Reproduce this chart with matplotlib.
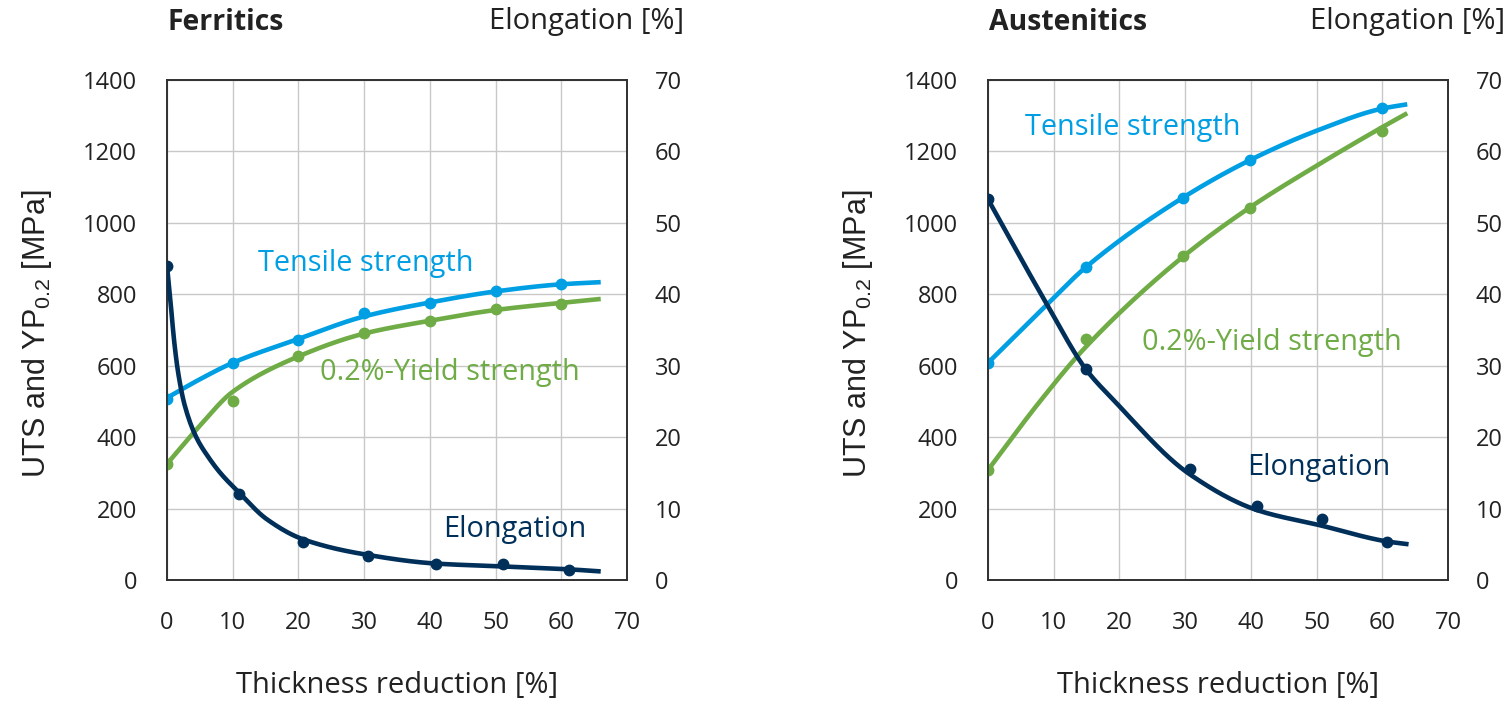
import numpy as np
import matplotlib
matplotlib.use("Agg")
from matplotlib import pyplot as plt

# measured points - Ferritics
fer_x = [0, 10, 20, 30, 40, 50, 60]
fer_uts = [507, 608, 672, 747, 775, 809, 828]
fer_yp = [325, 501, 626, 693, 725, 760, 773]
fer_el_x = [0, 10.9, 20.7, 30.6, 40.9, 51.1, 61.1]
fer_el = [43.9, 12.1, 5.3, 3.3, 2.2, 2.2, 1.4]

# trend lines - Ferritics
fer_fit_x = [0, 5, 10, 20, 30, 40, 50, 60, 66]
fer_uts_fit = [510, 562, 608, 675, 738, 777, 808, 828, 834]
fer_yp_fit = [325, 432, 527, 626, 690, 726, 756, 776, 787]
fer_el_fit_x = [0, 0.6, 1.07, 1.72, 2.74, 4.5, 6.3, 8.1, 10.9, 15.2, 20.7, 30, 40.9, 51, 61, 66]
fer_el_fit = [44, 38.3, 33.6, 28.9, 24.3, 19.9, 17.2, 15.0, 12.3, 8.5, 5.7, 3.6, 2.3, 1.9, 1.5, 1.2]

# measured points - Austenitics
aus_x = [0, 14.9, 29.7, 39.9, 60]
aus_uts = [608, 876, 1071, 1176, 1322]
aus_yp = [308, 675, 907, 1041, 1258]
aus_el_x = [0, 14.9, 30.7, 40.9, 50.8, 60.7]
aus_el = [53.3, 29.5, 15.5, 10.4, 8.6, 5.3]

# trend lines - Austenitics
aus_uts_fit_x = [0, 8.9, 14.9, 29.7, 39.9, 50, 60, 63.8]
aus_uts_fit = [608, 770, 876, 1071, 1176, 1258, 1320, 1332]
aus_yp_fit_x = [0, 7.9, 14.9, 29.8, 40, 50, 60, 63.8]
aus_yp_fit = [308, 500, 653, 907, 1045, 1160, 1268, 1307]
aus_el_fit_x = [0, 8.9, 14.9, 19.1, 30.7, 40.9, 50.8, 60.7, 64]
aus_el_fit = [53.3, 38.7, 29.5, 25.2, 14.8, 9.8, 7.6, 5.4, 5.0]

DARK = '#00305A'
BLUE = '#009FE3'
GREEN = '#6FAC46'
FONT = 'Open Sans'


def pchip(x, y, n=300):
    # monotone cubic for a smooth line through the trend points
    x = np.asarray(x, float)
    y = np.asarray(y, float)
    h = np.diff(x)
    d = np.diff(y) / h
    m = np.zeros_like(y)
    for k in range(1, len(x) - 1):
        if d[k - 1] * d[k] > 0:
            w1 = 2 * h[k] + h[k - 1]
            w2 = h[k] + 2 * h[k - 1]
            m[k] = (w1 + w2) / (w1 / d[k - 1] + w2 / d[k])
    m[0] = d[0]
    m[-1] = d[-1]
    xs = np.linspace(x[0], x[-1], n)
    idx = np.clip(np.searchsorted(x, xs) - 1, 0, len(h) - 1)
    t = (xs - x[idx]) / h[idx]
    h00 = 2 * t**3 - 3 * t**2 + 1
    h10 = t**3 - 2 * t**2 + t
    h01 = -2 * t**3 + 3 * t**2
    h11 = t**3 - t**2
    ys = h00 * y[idx] + h10 * h[idx] * m[idx] + h01 * y[idx + 1] + h11 * h[idx] * m[idx + 1]
    return xs, ys


plt.rcParams['mathtext.fontset'] = 'custom'
plt.rcParams['mathtext.rm'] = 'Liberation Sans'

fig = plt.figure(figsize=(15.1, 7.05), dpi=100)
W, H = 1510.0, 705.0


def panel(left_px, title, px_, uts, yp, uts_fit_x, uts_fit, yp_fit_x, yp_fit,
          elx, el, el_fit_x, el_fit, labels):
    ax = fig.add_axes([left_px / W, 125 / H, 460 / W, 500 / H])
    ax2 = ax.twinx()
    ax.set_xlim(0, 70)
    ax.set_ylim(0, 1400)
    ax2.set_ylim(0, 70)
    ax.set_xticks(range(0, 71, 10))
    ax.set_yticks(range(0, 1401, 200))
    ax2.set_yticks(range(0, 71, 10))
    ax.grid(True, color='#C8C8C8', lw=1)
    ax.set_axisbelow(True)
    for a in (ax, ax2):
        for s in a.spines.values():
            s.set_color('#303030')
            s.set_linewidth(1.2)
        a.tick_params(length=0, labelsize=17, labelcolor='#222222')
        for lab in a.get_xticklabels() + a.get_yticklabels():
            lab.set_fontfamily(FONT)
    ax.tick_params(axis='y', pad=21.5)
    ax.tick_params(axis='x', pad=22.5)
    ax2.tick_params(axis='y', pad=20)

    xs, ys = pchip(uts_fit_x, uts_fit)
    ax.plot(xs, ys, color=BLUE, lw=3.3, solid_capstyle='butt', zorder=3)
    ax.plot(px_, uts, 'o', color=BLUE, ms=7.5, zorder=4)
    xs, ys = pchip(yp_fit_x, yp_fit)
    ax.plot(xs, ys, color=GREEN, lw=3.3, solid_capstyle='butt', zorder=3)
    ax.plot(px_, yp, 'o', color=GREEN, ms=7.5, zorder=4)
    xs, ys = pchip(el_fit_x, el_fit)
    ax2.plot(xs, ys, color=DARK, lw=3.3, solid_capstyle='butt', zorder=3)
    ax2.plot(elx, el, 'o', color=DARK, ms=7.5, zorder=4)

    for txt, col, (tx, ty) in zip(['Tensile strength', '0.2%-Yield strength', 'Elongation'],
                                  [BLUE, GREEN, DARK], labels):
        ax.text(tx, ty, txt, color=col, fontsize=20.8, family=FONT,
                ha='left', va='center', zorder=5)

    fig.text((left_px + 1) / W, 1 - 22 / H, title, fontsize=20.4, weight='bold',
             family=FONT, color='#222222', ha='left', va='center')
    fig.text((left_px + 517) / W, 1 - 22 / H, 'Elongation [%]', fontsize=21,
             family=FONT, color='#222222', ha='right', va='center')
    fig.text((left_px + 230) / W, 1 - 686 / H, 'Thickness reduction [%]', fontsize=21,
             family=FONT, color='#222222', ha='center', va='center')
    fig.text((left_px - 130) / W, 1 - 334 / H, 'UTS and YP$_{0.2}$ [MPa]', fontsize=22,
             family='Liberation Sans', color='#222222', rotation=90,
             ha='center', va='center')
    return ax


panel(167, 'Ferritics', fer_x, fer_uts, fer_yp, fer_fit_x, fer_uts_fit,
      fer_fit_x, fer_yp_fit, fer_el_x, fer_el, fer_el_fit_x, fer_el_fit,
      [(13.85, 885), (23.3, 582), (42.0, 140)])
panel(988, 'Austenitics', aus_x, aus_uts, aus_yp, aus_uts_fit_x, aus_uts_fit,
      aus_yp_fit_x, aus_yp_fit, aus_el_x, aus_el, aus_el_fit_x, aus_el_fit,
      [(5.63, 1268), (23.4, 666), (39.4, 316)])

fig.savefig('out.png', dpi=100)
